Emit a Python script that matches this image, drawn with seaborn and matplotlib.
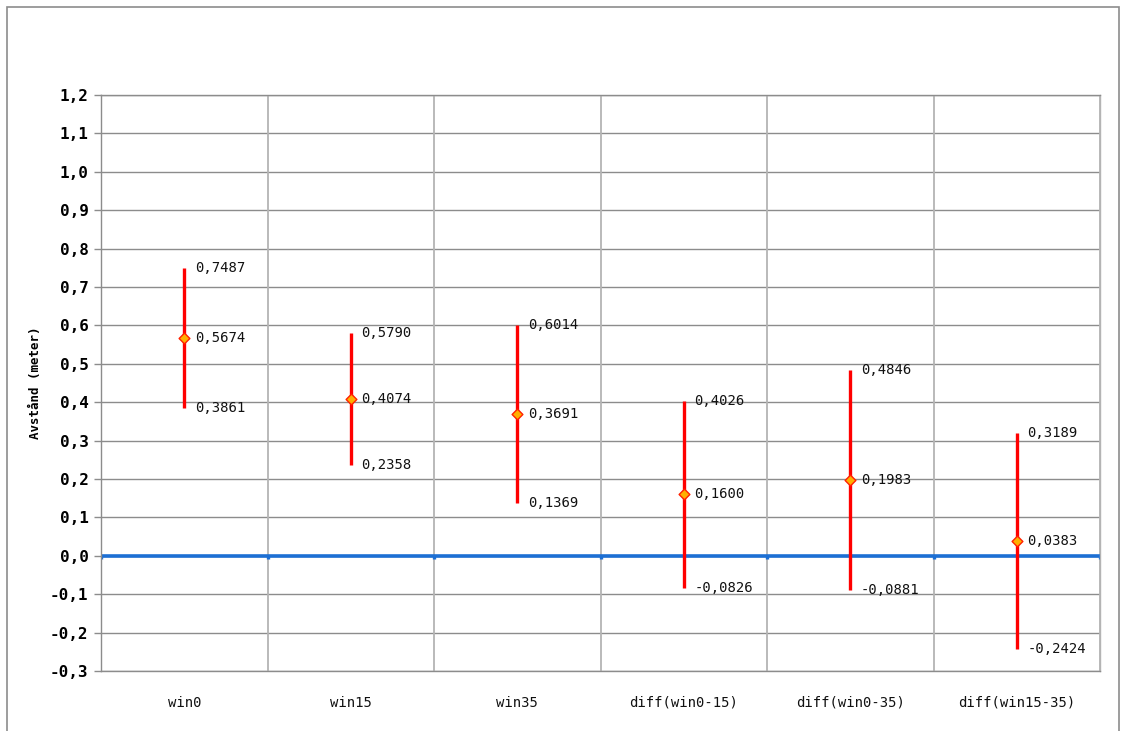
import matplotlib
matplotlib.use("Agg")
import matplotlib.pyplot as plt
import seaborn as sns
import pandas as pd
import numpy as np
from matplotlib.patches import Rectangle

categories = ["win0", "win15", "win35", "diff(win0-15)", "diff(win0-35)", "diff(win15-35)"]
high = [0.7487, 0.5790, 0.6014, 0.4026, 0.4846, 0.3189]
mean = [0.5674, 0.4074, 0.3691, 0.1600, 0.1983, 0.0383]
low = [0.3861, 0.2358, 0.1369, -0.0826, -0.0881, -0.2424]
yticks = [-0.3, -0.2, -0.1, 0.0, 0.1, 0.2, 0.3, 0.4, 0.5, 0.6, 0.7, 0.8, 0.9, 1.0, 1.1, 1.2]

df = pd.DataFrame({"kategori": categories, "hog": high, "medel": mean, "lag": low})
df["pos"] = np.arange(len(df))

sns.set_theme(style="white")
plt.rcParams["font.family"] = ["DejaVu Sans Mono"]

fig = plt.figure(figsize=(11.21, 7.31), dpi=100)
ax = fig.add_axes([101 / 1121, 1 - 671 / 731, 999 / 1121, 576 / 731])

# outer frame of the chart area
fig.add_artist(Rectangle((7 / 1121, -0.01), 1112 / 1121, 1 - 7 / 731 + 0.01,
                         transform=fig.transFigure, fill=False,
                         edgecolor="#8c8c8c", linewidth=1.2))

ax.set_xlim(-0.5, len(df) - 0.5)
ax.set_ylim(-0.3, 1.2)

# grid
for y in yticks:
    ax.axhline(y, color="#8c8c8c", linewidth=1.0, zorder=0)
bounds = np.arange(-0.5, len(df), 1.0)
for b in bounds:
    ax.axvline(b, color="#b4b4b4", linewidth=1.3, zorder=0)

# zero line with small downward ticks at category boundaries
ax.axhline(0, color="#1c6fd4", linewidth=2.6, zorder=2)
ax.vlines(bounds, -0.009, 0, color="#1c6fd4", linewidth=2.4, zorder=2)

# intervals
ax.vlines(df["pos"], df["lag"], df["hog"], color="#ff0000", linewidth=2.4, zorder=3)
sns.scatterplot(data=df, x="pos", y="medel", marker="D", s=30, color="#ffb000",
                edgecolor="#ff2000", linewidth=1.0, ax=ax, zorder=4, legend=False)

def fmt(v):
    return f"{v:.4f}".replace(".", ",")

for _, r in df.iterrows():
    for v in (r["hog"], r["medel"], r["lag"]):
        ax.annotate(fmt(v), (r["pos"], v), xytext=(7.5, 0), textcoords="offset points",
                    ha="left", va="center", fontsize=10, color="#111111", zorder=5)

ax.set_yticks(yticks)
ax.set_yticklabels([f"{y:.1f}".replace(".", ",").replace("-0,0", "0,0") for y in yticks],
                   fontsize=11.5, fontweight="bold", color="#000000")
ax.set_xticks(df["pos"])
ax.set_xticklabels(categories, fontsize=10, color="#111111")
ax.tick_params(axis="y", which="both", left=True, length=5, width=1, color="#8c8c8c", pad=4)
ax.tick_params(axis="x", which="both", bottom=False, pad=12)
ax.set_xlabel("")
ax.set_ylabel("Avstånd (meter)", fontsize=9, fontweight="bold", color="#000000", labelpad=6)

for side in ("left", "bottom", "right", "top"):
    ax.spines[side].set_visible(True)
    ax.spines[side].set_color("#8c8c8c")
    ax.spines[side].set_linewidth(1.0)
ax.spines["right"].set_color("#b4b4b4")

fig.savefig("out.png", dpi=100, facecolor="white")
